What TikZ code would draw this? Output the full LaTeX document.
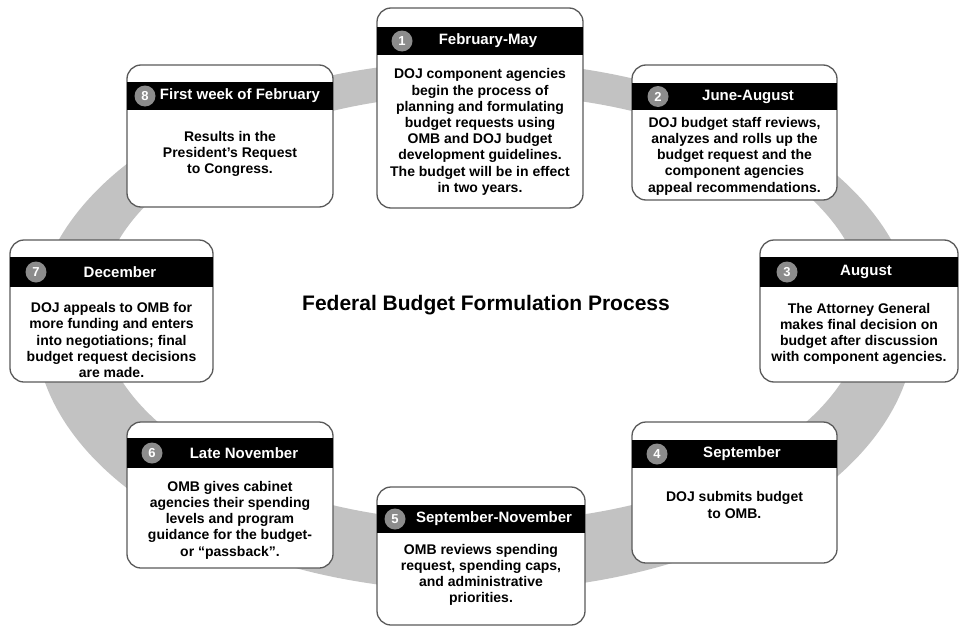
\documentclass[tikz,border=0pt]{standalone}
\usepackage{fontspec}
\setmainfont{Liberation Sans}
\definecolor{ringgray}{HTML}{C2C2C2}
\definecolor{boxline}{HTML}{5A5A5A}
\definecolor{numgray}{HTML}{8C8C8C}
\begin{document}
\begin{tikzpicture}[x=1pt,y=-1pt,
  box/.style={draw=boxline, line width=1.3pt, fill=white, rounded corners=14pt, inner sep=0pt, outer sep=0pt},
  hdr/.style={fill=black},
  num/.style={circle, fill=numgray, text=white, font=\bfseries\fontsize{13}{13}\selectfont, inner sep=0pt, minimum size=21pt},
  hdrtext/.style={text=white, font=\bfseries\fontsize{15}{15}\selectfont, inner sep=0pt},
  body/.style={align=center, font=\bfseries\fontsize{14}{16.2}\selectfont, inner sep=0pt},
  titletext/.style={font=\bfseries\fontsize{21}{21}\selectfont, inner sep=0pt}
]
\useasboundingbox (0,0) rectangle (961,629);
\fill[white] (0,0) rectangle (961,629);
% ring
\fill[ringgray, even odd rule] (475,326) ellipse [x radius=440pt, y radius=265pt]
  (482,308) ellipse [x radius=383pt, y radius=214pt];
% title
\node[titletext] (title) at (486,305) {Federal Budget Formulation Process};

% box 1
\node[box, minimum width=206pt, minimum height=200pt] (b1) at (480,108) {};
\fill[hdr] (377,27) rectangle (583,55);
\node[num] (n1) at (402,41) {1};
\node[hdrtext] (t1) at (488,41) {February-May};
\node[body] (d1) at (480,132) {DOJ component agencies\\begin the process of\\planning and formulating\\budget requests using\\OMB and DOJ budget\\development guidelines.\\The budget will be in effect\\in two years.};

% box 2
\node[box, minimum width=205pt, minimum height=135pt] (b2) at (734.5,132.5) {};
\fill[hdr] (632,83) rectangle (837,110);
\node[num] (n2) at (658,96.5) {2};
\node[hdrtext] (t2) at (748,96.5) {June-August};
\node[body] (d2) at (734.5,156) {DOJ budget staff reviews,\\analyzes and rolls up the\\budget request and the\\component agencies\\appeal recommendations.};

% box 3
\node[box, minimum width=198pt, minimum height=142pt] (b3) at (859,311) {};
\fill[hdr] (760,257) rectangle (958,287);
\node[num] (n3) at (787,272) {3};
\node[hdrtext] (t3) at (866,272) {August};
\node[body] (d3) at (859,334) {The Attorney General\\makes final decision on\\budget after discussion\\with component agencies.};

% box 4
\node[box, minimum width=205pt, minimum height=141pt] (b4) at (734.5,492.5) {};
\fill[hdr] (632,440) rectangle (837,468);
\node[num] (n4) at (657,454) {4};
\node[hdrtext] (t4) at (742,454) {September};
\node[body] (d4) at (734.5,505) {DOJ submits budget\\to OMB.};

% box 5
\node[box, minimum width=208pt, minimum height=138pt] (b5) at (481,556) {};
\fill[hdr] (377,505) rectangle (585,533);
\node[num] (n5) at (395,519) {5};
\node[hdrtext] (t5) at (494,519) {September-November};
\node[body] (d5) at (481,575) {OMB reviews spending\\request, spending caps,\\and administrative\\priorities.};

% box 6
\node[box, minimum width=206pt, minimum height=146pt] (b6) at (230,495) {};
\fill[hdr] (127,438) rectangle (333,468);
\node[num] (n6) at (152,453) {6};
\node[hdrtext] (t6) at (244,453) {Late November};
\node[body] (d6) at (230,520) {OMB gives cabinet\\agencies their spending\\levels and program\\guidance for the budget-\\or “passback”.};

% box 7
\node[box, minimum width=203pt, minimum height=142pt] (b7) at (111.5,311) {};
\fill[hdr] (10,257) rectangle (213,287);
\node[num] (n7) at (36,272) {7};
\node[hdrtext] (t7) at (120,272) {December};
\node[body] (d7) at (111.5,340) {DOJ appeals to OMB for\\more funding and enters\\into negotiations; final\\budget request decisions\\are made.};

% box 8
\node[box, minimum width=206pt, minimum height=142pt] (b8) at (230,136) {};
\fill[hdr] (127,82) rectangle (333,110);
\node[num] (n8) at (145,96) {8};
\node[hdrtext] (t8) at (240,96) {First week of February};
\node[body] (d8) at (230,154) {Results in the\\President’s Request\\to Congress.};
\end{tikzpicture}
\end{document}
